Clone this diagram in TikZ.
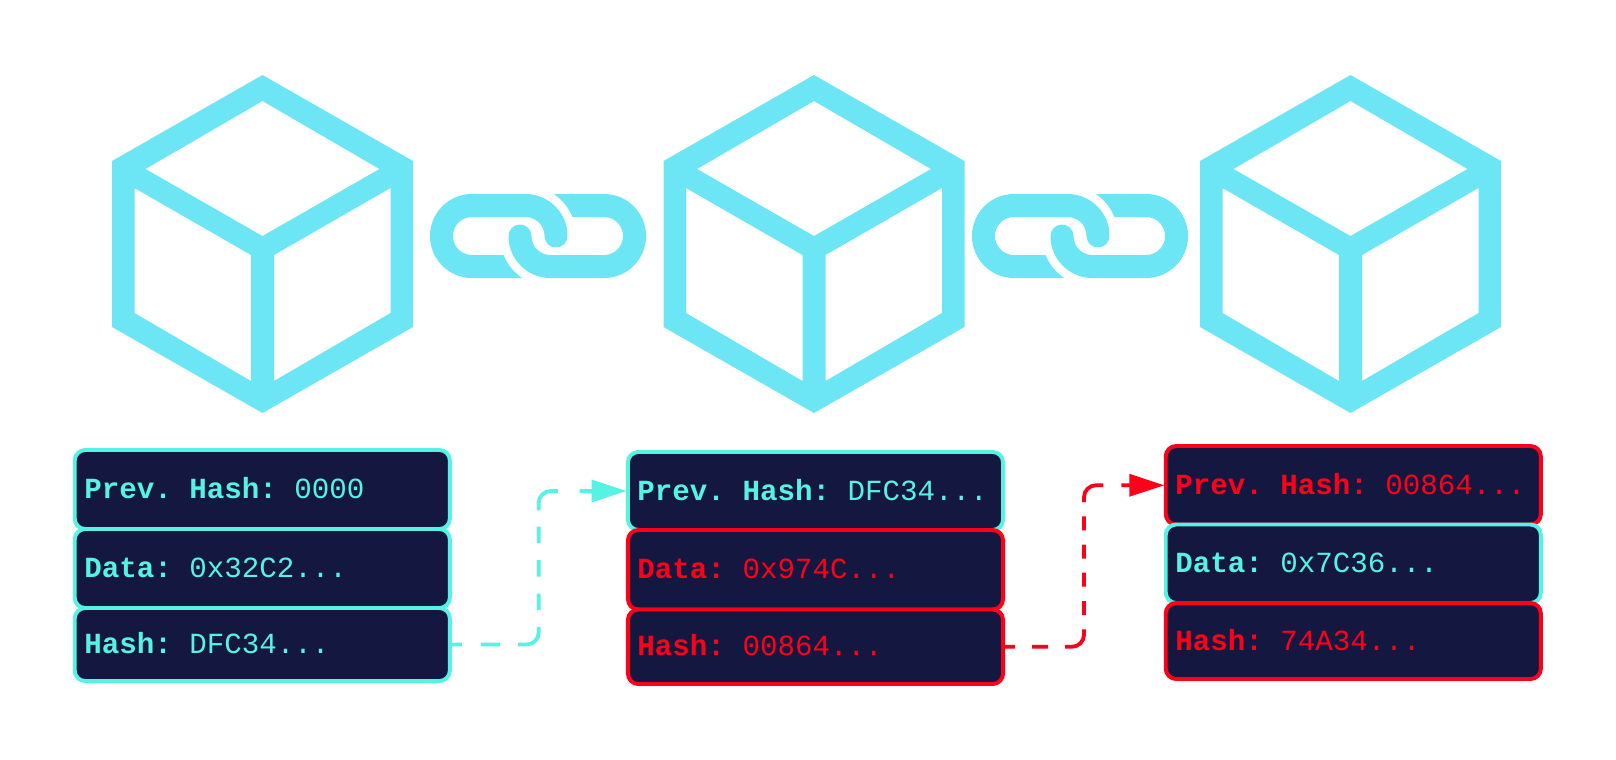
\documentclass[tikz,border=0pt]{standalone}
\usepackage{fontspec}
\setmonofont{Liberation Mono}
\usepackage{xcolor}
\usetikzlibrary{arrows.meta}

\definecolor{iconblue}{HTML}{6CE5F4}
\definecolor{rowcyan}{HTML}{56F2E4}
\definecolor{rowred}{HTML}{FF0019}
\definecolor{rowfill}{HTML}{141840}

\tikzset{
  rowbox/.style={draw,fill=rowfill,line width=2.8pt,rounded corners=0.26cm,outer sep=0pt,
    minimum width=9.375cm,text width=8.9cm,inner xsep=0.2375cm,inner ysep=0pt,align=flush left,
    text height=0.45cm,text depth=0pt,font=\ttfamily\fontsize{20.75}{24}\selectfont\frenchspacing},
  cyanrow/.style={rowbox,draw=rowcyan,text=rowcyan},
  redrow/.style={rowbox,draw=rowred,text=rowred},
  dashlink/.style={line width=2.7pt,rounded corners=0.3cm,
    -{Triangle[length=24.9pt,width=15.6pt]},shorten >=1pt},
  dashcyan/.style={dashlink,rowcyan,dash pattern=on 8.5pt off 13.5pt on 13.5pt off 12.8pt on 23.5pt off 12.1pt
    on 11.7pt off 12.1pt on 11.7pt off 12.1pt on 11.7pt off 11.7pt on 23.5pt off 15.6pt on 71pt},
  dashred/.style={dashlink,rowred,dash pattern=on 8.5pt off 12.1pt on 11.4pt off 12.1pt on 22pt off 10.2pt
    on 10pt off 10.2pt on 10pt off 10pt on 10pt off 10pt on 10pt off 10.2pt on 22pt off 12.8pt on 71pt},
  linkline/.style={iconblue,line width=0.575cm,line cap=round},
  linkgap/.style={white,line width=1cm},
  cubeicon/.pic={
    \fill[iconblue,even odd rule]
      (0,75) -- (150.5,161) -- (150.5,327) -- (0,413) -- (-150.5,327) -- (-150.5,161) -- cycle
      (0,101) -- (117,169) -- (0,236) -- (-117,169) -- cycle
      (-128,188) -- (-11.5,255) -- (-11.5,381) -- (-128,313) -- cycle
      (128,188) -- (11.5,255) -- (11.5,381) -- (128,313) -- cycle;
  },
  chainicon/.pic={
    % both halves, then the gaps, then the two hooks again
    \draw[linkline] (-17,30.5) -- (-66,30.5) .. controls (-82.85,30.5) and (-96.5,16.85) .. (-96.5,0)
      .. controls (-96.5,-16.85) and (-82.85,-30.5) .. (-66,-30.5) -- (-12.5,-30.5);
    \draw[linkline] (17,-30.5) -- (66,-30.5) .. controls (82.85,-30.5) and (96.5,-16.85) .. (96.5,0)
      .. controls (96.5,16.85) and (82.85,30.5) .. (66,30.5) -- (12.5,30.5);
    \draw[linkgap] (-18,0) .. controls (-18,16.85) and (-4.35,30.5) .. (12.5,30.5);
    \draw[linkgap] (18,0) .. controls (18,-16.85) and (4.35,-30.5) .. (-12.5,-30.5);
    \draw[linkline] (18,0) .. controls (18,-16.85) and (4.35,-30.5) .. (-12.5,-30.5);
    \draw[linkline] (-18,0) .. controls (-18,16.85) and (-4.35,30.5) .. (12.5,30.5);
  }
}

\begin{document}
\begin{tikzpicture}[x=0.025cm,y=-0.025cm]
\useasboundingbox (0,0) rectangle (1616,759);

% Blocks
\pic (cubeA) at (262.5,0) {cubeicon};
\pic (cubeB) at (814,0) {cubeicon};
\pic (cubeC) at (1350.5,0) {cubeicon};

% Chain links
\pic (chainA) at (538,236) {chainicon};
\pic (chainB) at (1080,236) {chainicon};

% First block
\node[cyanrow,minimum height=1.975cm] (prevA) at (262.3,489.5) {\textbf{Prev. Hash:} 0000};
\node[cyanrow,minimum height=1.975cm] (dataA) at (262.3,568.5) {\textbf{Data:} 0x32C2...};
\node[cyanrow,minimum height=1.825cm] (hashA) at (262.3,644.5) {\textbf{Hash:} DFC34...};

% Second block
\node[cyanrow,minimum height=1.95cm] (prevB) at (815.5,491) {\textbf{Prev. Hash:} DFC34...};
\node[redrow,minimum height=1.9875cm] (dataB) at (815.5,569.75) {\textbf{Data:} 0x974C...};
\node[redrow,minimum height=1.8625cm] (hashB) at (815.5,646.75) {\textbf{Hash:} 00864...};

% Third block
\node[redrow,minimum height=1.9625cm] (prevC) at (1353.3,485.25) {\textbf{Prev. Hash:} 00864...};
\node[cyanrow,minimum height=1.9625cm] (dataC) at (1353.3,563.75) {\textbf{Data:} 0x7C36...};
\node[redrow,minimum height=1.9cm] (hashC) at (1353.3,641) {\textbf{Hash:} 74A34...};

% Hash pointers
\coordinate (midA) at (538.7,568);
\coordinate (midB) at (1084,568);
\draw[dashcyan] (hashA.east) -| (midA) |- (prevB.west);
\draw[dashred] (hashB.east) -| (midB) |- (prevC.west);
\end{tikzpicture}
\end{document}
